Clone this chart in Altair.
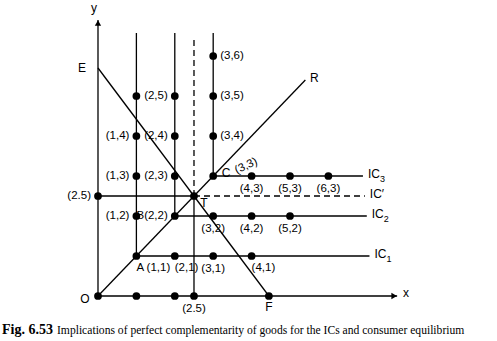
import altair as alt
import pandas as pd

# ---------------- data ----------------
ic_levels = [1, 2, 3]                 # corner points (k, k) of IC1, IC2, IC3
ic_top = 6.575                        # where the vertical arms stop
ic_right = [7.07, 7.0, 6.9]           # where the horizontal arms stop
t_val = 2.5                           # equilibrium T = (2.5, 2.5)
icp_top = 6.45
icp_right = 6.95
x_axis_end = 7.79
y_axis_end = 6.9
ray_end = 5.4                         # R
e_int = 5.7                           # E on y axis
f_int = 4.45                          # F on x axis

dot_x = [0, 1, 2, 2.5, 4.45, 0, 1, 2, 3, 4, 1, 2, 3, 4, 5, 1, 2, 3, 4, 5, 6, 1, 2, 3, 1, 2, 3, 3, 2.5]
dot_y = [0, 0, 0, 0, 0, 2.5, 1, 1, 1, 1, 2, 2, 2, 2, 2, 3, 3, 3, 3, 3, 3, 4, 4, 4, 5, 5, 5, 6, 2.5]

right_labels = ["(3,6)", "(3,5)", "(3,4)"]
right_x = [3, 3, 3]
right_y = [6, 5, 4]

left_labels = ["(1,4)", "(2,4)", "(2,5)", "(1,3)", "(2,3)", "(1,2)", "B(2,2)", "(2.5)"]
left_x = [1, 2, 2, 1, 2, 1, 2, 0]
left_y = [4, 4, 5, 3, 3, 2, 2, 2.5]

below_labels = ["(4,3)", "(5,3)", "(6,3)", "(3,2)", "(4,2)", "(5,2)", "(3,1)", "(2.5)"]
below_x = [4, 5, 6, 3, 4, 5, 3, 2.5]
below_y = [3, 3, 3, 2, 2, 2, 1, 0]

belowleft_labels = ["A (1,1)", "(2,1)", "(4,1)"]
belowleft_x = [1, 2, 4]
belowleft_y = [1, 1, 1]

ic_names = ["IC", "IC", "IC"]
ic_subs = ["1", "2", "3"]

caption_bold = "Fig. 6.53"
caption_rest = "Implications of perfect complementarity of goods for the ICs and consumer equilibrium"

# ---------------- scales ----------------
XS = alt.Scale(domain=[-2.552, 10.391], nice=False, zero=False)
YS = alt.Scale(domain=[-1.125, 7.4], nice=False, zero=False)
SANS = "Liberation Sans"
SERIF = "Liberation Serif"


def enc(ch):
    return ch.encode(
        x=alt.X("x:Q", scale=XS, axis=None),
        y=alt.Y("y:Q", scale=YS, axis=None),
    )


def labels(texts, xs, ys, **kw):
    df = pd.DataFrame({"x": xs, "y": ys, "t": texts})
    base = dict(font=SANS, fontSize=11.5, color="black", baseline="middle")
    base.update(kw)
    return enc(alt.Chart(df).mark_text(**base)).encode(text="t:N")


# ---------------- segments ----------------
solid = []
solid.append((0, 0, x_axis_end, 0))
solid.append((0, 0, 0, y_axis_end))
for k, r in zip(ic_levels, ic_right):
    solid.append((k, k, k, ic_top))
    solid.append((k, k, r, k))
solid.append((0, t_val, t_val, t_val))
solid.append((t_val, 0, t_val, t_val))
solid.append((0, 0, ray_end, ray_end))
solid.append((0, e_int, f_int, 0))
solid_df = pd.DataFrame(solid, columns=["x", "y", "x2", "y2"])

dashed_df = pd.DataFrame(
    [(t_val, t_val, t_val, icp_top), (t_val, t_val, icp_right, t_val)],
    columns=["x", "y", "x2", "y2"],
)

solid_layer = enc(alt.Chart(solid_df).mark_rule(color="black", strokeWidth=1.3)).encode(
    x2="x2:Q", y2="y2:Q")
dashed_layer = enc(alt.Chart(dashed_df).mark_rule(color="black", strokeWidth=1.3,
                                                  strokeDash=[6, 4])).encode(x2="x2:Q", y2="y2:Q")

dots = enc(alt.Chart(pd.DataFrame({"x": dot_x, "y": dot_y})).mark_circle(
    size=60, color="black", opacity=1))

arrow_up = enc(alt.Chart(pd.DataFrame({"x": [0], "y": [y_axis_end]})).mark_point(
    shape="triangle-up", filled=True, color="black", size=40, opacity=1, yOffset=3))
arrow_right = enc(alt.Chart(pd.DataFrame({"x": [x_axis_end], "y": [0]})).mark_point(
    shape="triangle-right", filled=True, color="black", size=40, opacity=1, xOffset=-3))

layers = [solid_layer, dashed_layer, dots, arrow_up, arrow_right]

layers.append(labels(right_labels, right_x, right_y, align="left", dx=7))
layers.append(labels(left_labels, left_x, left_y, align="right", dx=-7))
layers.append(labels(below_labels, below_x, below_y, align="center", dy=13))
layers.append(labels(belowleft_labels, belowleft_x, belowleft_y, align="left", dx=0, dy=12))
layers.append(labels(["(3,3)"], [3], [3], align="center", dx=34, dy=5, angle=335))
layers.append(labels(["C"], [3], [3], align="center", dx=13, dy=-3, fontSize=12))
layers.append(labels(["T"], [t_val], [t_val], align="center", dx=10, dy=7, fontSize=12))
layers.append(labels(["E"], [0], [e_int], align="center", dx=-16, fontSize=12))
layers.append(labels(["O"], [0], [0], align="center", dx=-13, dy=3, fontSize=12))
layers.append(labels(["F"], [f_int], [0], align="center", dy=11, fontSize=12))
layers.append(labels(["R"], [ray_end], [ray_end], align="center", dx=9, dy=-2, fontSize=12))
layers.append(labels(["x"], [x_axis_end], [0], align="left", dx=6, dy=-3, fontSize=12))
layers.append(labels(["y"], [0], [y_axis_end], align="center", dx=-4, dy=-12, fontSize=12))

# IC labels with subscripts
ic_label_x = [ic_right[0], ic_right[1], ic_right[2]]
ic_label_y = [1, 2, 3]
layers.append(labels(ic_names, ic_label_x, ic_label_y, align="left", dx=5, dy=-2, fontSize=12))
layers.append(labels(ic_subs, ic_label_x, ic_label_y, align="left", dx=17, dy=3, fontSize=9))
layers.append(labels(["IC\u2032"], [icp_right], [t_val], align="left", dx=5, dy=-2, fontSize=12))

# caption
cap1 = alt.Chart(pd.DataFrame({"t": [caption_bold]})).mark_text(
    font=SERIF, fontSize=14, fontWeight="bold", align="left", baseline="alphabetic", color="black"
).encode(x=alt.value(2), y=alt.value(334), text="t:N")
cap2 = alt.Chart(pd.DataFrame({"t": [caption_rest]})).mark_text(
    font=SERIF, fontSize=11.6, align="left", baseline="alphabetic", color="black"
).encode(x=alt.value(57), y=alt.value(334), text="t:N")
layers += [cap1, cap2]

chart = alt.layer(*layers).properties(
    width=497, height=341, autosize=alt.AutoSizeParams(type="none"), padding=0,
    background="white",
).configure_view(stroke=None)

chart.save("out.html", embed_options={"renderer": "svg", "actions": False})
